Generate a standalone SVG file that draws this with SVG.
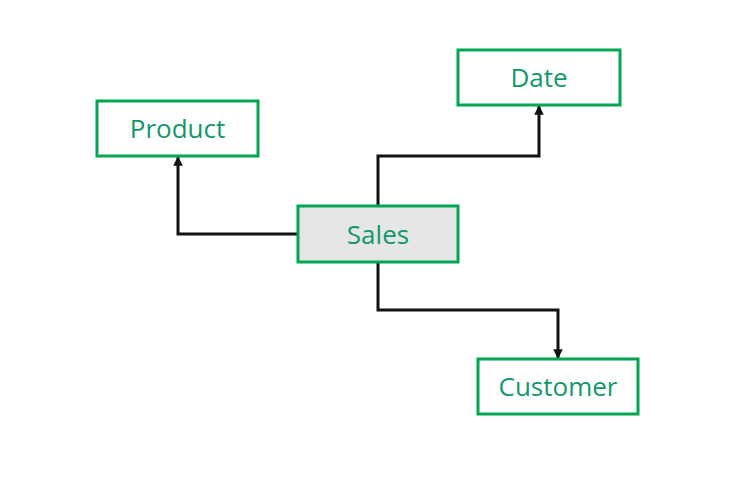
<svg xmlns="http://www.w3.org/2000/svg" width="729" height="480" viewBox="0 0 729 480">
<defs>
<style>
.box{fill:#ffffff;stroke:#00a650;stroke-width:3}
.main{fill:#e6e6e6}
.lbl{font-family:"Open Sans","Noto Sans",sans-serif;font-size:26px;fill:#12986c;text-anchor:middle;dominant-baseline:central}
.con{fill:none;stroke:#111111;stroke-width:3}
</style>
<marker id="arr" viewBox="0 0 10 10" refX="9" refY="5" markerWidth="3.2" markerHeight="3.2" orient="auto" markerUnits="strokeWidth">
<path d="M0,0 L10,5 L0,10 z" fill="#111111"/>
</marker>
</defs>
<rect width="729" height="480" fill="#ffffff"/>
<g id="connectors">
<polyline class="con" points="298,234 178,234 178,157" marker-end="url(#arr)"/>
<polyline class="con" points="378,206 378,156 539,156 539,106" marker-end="url(#arr)"/>
<polyline class="con" points="378,262 378,310 558,310 558,358" marker-end="url(#arr)"/>
</g>
<g id="product"><rect class="box" x="97" y="101" width="161" height="55"/><text class="lbl" x="177.5" y="128">Product</text></g>
<g id="date"><rect class="box" x="458" y="50" width="162" height="55"/><text class="lbl" x="539" y="77">Date</text></g>
<g id="sales"><rect class="box main" x="298" y="206" width="160" height="56"/><text class="lbl" x="378" y="233.5">Sales</text></g>
<g id="customer"><rect class="box" x="478" y="359" width="160" height="55"/><text class="lbl" x="558" y="386">Customer</text></g>
</svg>
